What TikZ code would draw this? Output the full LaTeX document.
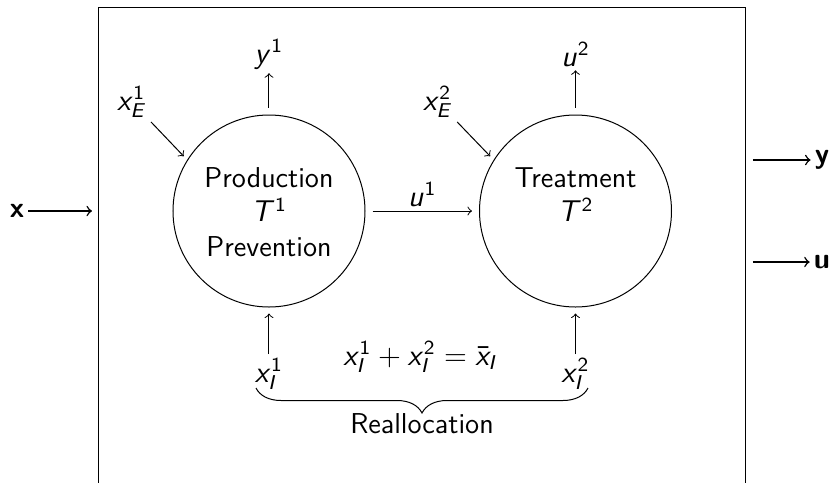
\documentclass[tikz,border=0pt]{standalone}
\usetikzlibrary{decorations.pathreplacing}
\renewcommand{\familydefault}{\sfdefault}
\SetSymbolFont{operators}{normal}{OT1}{cmss}{m}{n}
\SetSymbolFont{letters}{normal}{OT1}{cmss}{m}{it}
\newcommand{\topfix}{\rule{0pt}{12.9pt}}
\tikzset{
  arr/.style={->, line width=0.4pt},
  bigarr/.style={->, line width=0.6pt},
  proc/.style={circle, draw, line width=0.4pt, minimum size=76.8pt, inner sep=0pt, align=center},
  lab/.style={inner sep=1.5pt},
}
\begin{document}
\begin{tikzpicture}[x=0.4pt, y=-0.4pt, font=\fontsize{11.5}{13.8}\selectfont]
\useasboundingbox (0,0) rectangle (836,482);
% outer box (bottom cut off)
\draw[line width=0.4pt] (98.5,520) -- (98.5,7) -- (745.5,7) -- (745.5,520);
% processes
\node[proc] (T1) at (269,211) {\topfix\strut Production\\\strut$T^1$\\\strut Prevention};
\node[proc] (T2) at (575.5,211) {\topfix\strut Treatment\\\strut$T^2$\\\strut};
% labels
\node[lab] (y1) at (269,54) {$y^1$};
\node[lab] (u2) at (575.5,54) {$u^2$};
\node[lab] (xE1) at (132,102) {$x_E^1$};
\node[lab] (xE2) at (438,102) {$x_E^2$};
\node[lab] (xI1) at (269,374) {$x_I^1$};
\node[lab] (xI2) at (575.5,374) {$x_I^2$};
\node[lab] (eq) at (421,357) {$x_I^1+x_I^2=\bar{x}_I$};
\node[lab] (re) at (422,424) {Reallocation};
\node[lab] (xl) at (17,211) {\textbf{x}};
\node[lab] (yl) at (822,160) {\textbf{y}};
\node[lab] (ul) at (822,262) {\textbf{u}};
\coordinate (xin) at (92,211);
\coordinate (yo) at (753,160);
\coordinate (uo) at (753,262);
\coordinate (bl) at (256,388);
\coordinate (br) at (588,388);
% connectors
\draw[arr, shorten <=2.8pt] (T1) -- (y1);
\draw[arr, shorten <=2.8pt] (T2) -- (u2);
\draw[arr, shorten >=2pt] (xE1) -- (T1.148);
\draw[arr, shorten >=2pt] (xE2) -- (T2.148);
\draw[arr, shorten >=2.4pt] (xI1) -- (T1);
\draw[arr, shorten >=2.4pt] (xI2) -- (T2);
\draw[arr, shorten <=2.8pt, shorten >=2.8pt] (T1) -- node[lab, above] (u1) {$u^1$} (T2);
\draw[bigarr] (xl) -- (xin);
\draw[bigarr] (yo) -- (yl);
\draw[bigarr] (uo) -- (ul);
\draw[decorate, decoration={brace, mirror, amplitude=10pt}] (bl) -- (br);
\end{tikzpicture}
\end{document}
